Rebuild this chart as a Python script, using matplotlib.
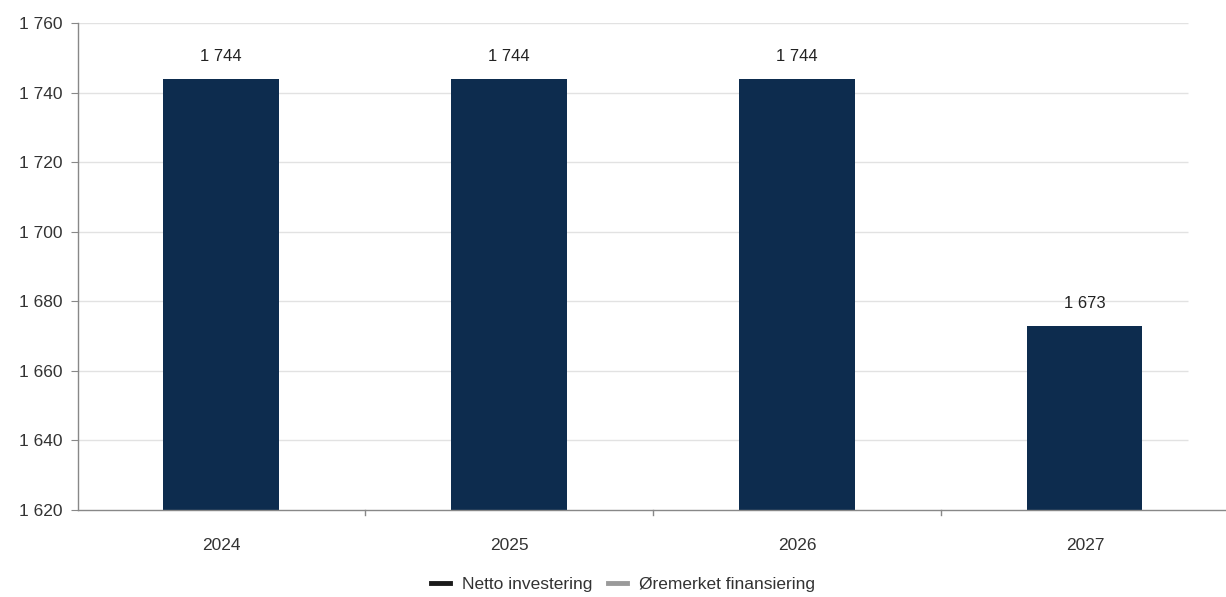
import matplotlib.pyplot as plt
from matplotlib.lines import Line2D

years = ['2024', '2025', '2026', '2027']
netto = [1744, 1744, 1744, 1673]
yticks = [1620, 1640, 1660, 1680, 1700, 1720, 1740, 1760]

plt.rcParams['font.family'] = ['Liberation Sans', 'DejaVu Sans']

fig = plt.figure(figsize=(12.26, 5.97), dpi=100)
ax = fig.add_axes([78 / 1226, 1 - 510 / 597, 1 - 78 / 1226, (510 - 23) / 597])

fmt = lambda v: '{:,}'.format(v).replace(',', ' ')

x = list(range(len(years)))
ax.set_xlim(-0.4965, 3.49)
ax.set_ylim(1620, 1760)

# gridlines stop short of the right edge
ax.hlines(yticks[1:], -0.4965, 3.358, colors='#e2e2e2', linewidth=1, zorder=0)

bars = ax.bar(x, netto, width=0.4, color='#0d2c4e', zorder=2)
for xi, v in zip(x, netto):
    ax.text(xi, v + 4.3, fmt(v), ha='center', va='bottom', fontsize=12, color='#222222')

ax.set_yticks(yticks)
ax.set_yticklabels([fmt(t) for t in yticks], fontsize=12.5, color='#333333')
ax.set_xticks(x)
ax.set_xticklabels(years, fontsize=12.5, color='#333333')
ax.tick_params(axis='x', length=0, pad=20)
ax.tick_params(axis='y', length=5, color='#888888', pad=6)

# category separators on the x axis
for b in [0.5, 1.5, 2.5]:
    ax.plot([b, b], [1620, 1618.5], color='#888888', lw=1, clip_on=False)

for s in ['top', 'right']:
    ax.spines[s].set_visible(False)
for s in ['left', 'bottom']:
    ax.spines[s].set_color('#888888')
    ax.spines[s].set_linewidth(1)

handles = [Line2D([], [], color='#1a1a1a', lw=3.5),
           Line2D([], [], color='#9a9a9a', lw=3.5)]
fig.legend(handles, ['Netto investering', 'Øremerket finansiering'],
           loc='center', bbox_to_anchor=(0.508, 0.021), ncol=2, frameon=False,
           fontsize=12.5, handlelength=1.1, handletextpad=0.7, columnspacing=0.9,
           labelcolor='#333333')

fig.savefig('out.png', dpi=100)
